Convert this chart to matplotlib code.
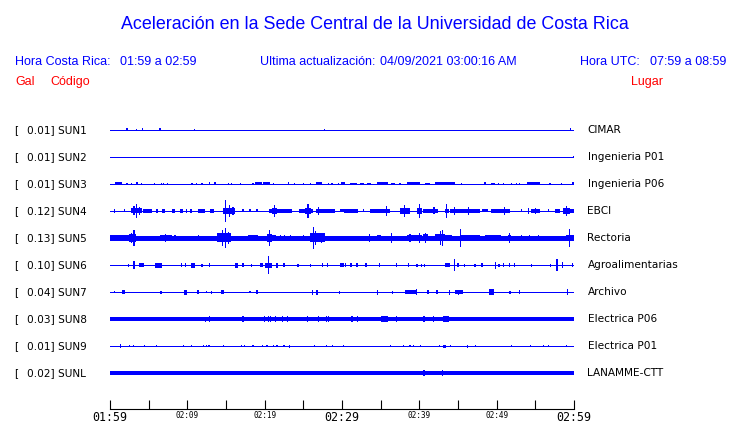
import matplotlib
matplotlib.use("Agg")
import matplotlib.pyplot as plt

# ---------------------------------------------------------
#  Chart data (times are minutes after 01:59 local time)
# ---------------------------------------------------------

TITLE = "Aceleración en la Sede Central de la Universidad de Costa Rica"
CR_RANGE = "01:59 a 02:59"
UTC_RANGE = "07:59 a 08:59"
UPDATED = "04/09/2021 03:00:16 AM"

CODES = ["SUN1", "SUN2", "SUN3", "SUN4", "SUN5",
         "SUN6", "SUN7", "SUN8", "SUN9", "SUNL"]
GAINS = [0.01, 0.01, 0.01, 0.12, 0.13, 0.10, 0.04, 0.03, 0.01, 0.02]
PLACES = ["CIMAR", "Ingenieria P01", "Ingenieria P06", "EBCI", "Rectoria",
          "Agroalimentarias", "Archivo", "Electrica P06", "Electrica P01",
          "LANAMME-CTT"]

# background noise half-amplitude of every trace
BASE_NOISE = [0.5, 0.5, 0.5, 0.5, 1.6, 0.5, 0.5, 1.8, 0.5, 1.9]

# (start, end, half amplitude) of the visible bursts on each trace
SUN1_EVENTS = [(2.2, 2.2, 1.5), (3.4, 3.4, 1.0), (4.2, 4.2, 1.5), (6.3, 6.6, 1.5),
               (10.9, 10.9, 1.0), (27.7, 27.7, 1.0), (59.5, 59.5, 1.5)]

SUN2_EVENTS = [(59.9, 59.9, 1.0)]

SUN3_EVENTS = [
    (0.6, 1.5, 1.5), (2.2, 2.2, 1.2), (2.8, 2.8, 1.2), (3.4, 3.6, 1.5), (4.1, 4.1, 1.2),
    (5.8, 5.8, 1.2), (6.7, 6.7, 1.2), (6.9, 6.9, 1.2), (7.4, 7.4, 1.2), (10.6, 10.6, 1.2),
    (11.2, 11.2, 1.2), (11.9, 11.9, 1.2), (12.9, 12.9, 1.5), (13.5, 13.7, 1.5),
    (15.3, 15.3, 1.2), (15.7, 15.7, 1.2), (16.8, 17.0, 1.2), (18.5, 18.5, 1.2),
    (18.8, 19.6, 1.5), (19.8, 20.7, 1.5), (21.1, 21.1, 1.2), (23.1, 23.1, 1.5),
    (23.9, 23.9, 1.2), (25.0, 25.0, 1.2), (25.9, 25.9, 1.2), (26.7, 27.4, 1.5),
    (28.2, 28.2, 1.2), (28.7, 28.7, 1.2), (29.5, 29.5, 1.2), (29.9, 30.4, 1.5),
    (31.0, 31.9, 1.2), (32.3, 32.8, 1.2), (33.2, 33.8, 1.2), (34.5, 36.0, 1.5),
    (36.4, 36.8, 1.2), (37.5, 37.5, 1.2), (38.4, 40.1, 1.5), (40.7, 41.4, 1.2),
    (42.0, 44.6, 1.5), (45.5, 45.5, 1.2), (48.5, 48.5, 1.5), (49.3, 49.8, 1.2),
    (50.2, 50.2, 1.2), (50.9, 50.9, 1.2), (51.9, 51.9, 1.2), (52.6, 52.6, 1.2),
    (53.0, 53.0, 1.2), (53.9, 55.6, 1.5), (56.9, 56.9, 1.2), (58.4, 58.4, 1.2),
    (59.7, 60.0, 1.5)]

SUN4_EVENTS = [
    (0.6, 0.6, 2.0), (1.9, 1.9, 1.5), (2.7, 4.1, 2.5), (3.4, 3.4, 7.0), (3.1, 3.1, 4.5),
    (3.8, 3.8, 4.0), (4.3, 5.4, 1.8), (6.0, 6.2, 1.8), (6.7, 7.1, 1.8), (8.0, 8.4, 1.8),
    (9.0, 9.4, 1.6), (9.8, 10.0, 1.6), (10.3, 10.6, 1.6), (11.4, 12.3, 1.8),
    (12.9, 13.4, 1.6), (14.6, 16.2, 3.0), (14.9, 14.9, 11.0), (15.5, 15.5, 6.0),
    (15.9, 15.9, 4.0), (17.2, 17.2, 1.5), (18.1, 18.1, 1.5), (19.0, 19.0, 1.5),
    (20.5, 23.5, 1.8), (21.0, 21.6, 3.0), (21.3, 21.3, 6.0), (24.4, 26.3, 2.2),
    (25.2, 26.0, 3.0), (25.6, 25.6, 7.0), (26.7, 29.1, 1.8), (27.0, 27.0, 4.0),
    (29.7, 30.2, 1.5), (30.2, 32.1, 1.6), (32.8, 32.8, 1.5), (33.6, 34.5, 1.8),
    (34.5, 36.2, 2.2), (35.8, 35.8, 5.0), (37.5, 38.8, 3.0), (38.1, 38.1, 6.0),
    (39.7, 40.3, 3.0), (40.0, 40.0, 7.0), (40.5, 42.4, 1.8), (41.9, 41.9, 3.5),
    (43.3, 43.8, 2.2), (43.5, 43.5, 7.0), (44.0, 47.8, 1.8), (44.5, 44.5, 4.0),
    (46.4, 46.4, 4.0), (48.1, 48.9, 1.5), (49.3, 51.7, 1.8), (51.0, 51.0, 4.0),
    (53.2, 53.2, 1.5), (54.1, 54.1, 3.0), (54.5, 55.6, 1.8), (55.0, 55.0, 3.0),
    (56.7, 56.7, 1.5), (57.5, 58.2, 1.8), (58.6, 59.5, 3.0), (59.0, 59.0, 5.0),
    (59.5, 60.0, 1.8)]

SUN5_EVENTS = [
    (0.0, 2.4, 2.5), (2.4, 3.4, 4.0), (3.1, 3.1, 8.0), (2.8, 2.8, 5.0), (3.4, 6.2, 2.0),
    (6.5, 8.0, 2.5), (7.2, 7.2, 4.0), (8.4, 8.4, 2.5), (11.4, 11.4, 2.5),
    (13.8, 15.7, 4.5), (14.6, 14.6, 8.0), (14.9, 14.9, 10.0), (15.3, 15.3, 6.0),
    (15.7, 17.5, 2.0), (17.9, 19.2, 2.5), (20.3, 20.9, 4.0), (20.6, 20.6, 8.0),
    (20.9, 21.5, 3.0), (22.0, 22.0, 2.5), (22.6, 22.6, 2.5), (23.3, 23.3, 2.5),
    (25.0, 25.0, 2.5), (25.9, 27.8, 4.5), (26.3, 26.3, 11.0), (26.6, 26.6, 7.0),
    (27.4, 27.4, 5.0), (27.8, 30.3, 2.0), (30.0, 32.8, 2.0), (33.6, 33.6, 4.0),
    (34.5, 35.1, 3.0), (36.4, 36.4, 5.0), (38.4, 40.3, 3.0), (40.0, 40.0, 5.0),
    (38.8, 38.8, 4.0), (40.5, 41.1, 3.5), (40.8, 40.8, 5.0), (42.0, 43.3, 3.5),
    (42.7, 42.7, 7.0), (43.0, 43.0, 8.0), (43.3, 44.2, 3.0), (45.3, 45.3, 9.0),
    (45.3, 47.8, 2.5), (48.5, 50.6, 2.5), (51.5, 51.9, 3.0), (51.7, 51.7, 5.0),
    (53.2, 53.2, 2.5), (54.3, 54.3, 2.5), (55.4, 55.4, 2.5), (56.0, 58.5, 2.0),
    (59.0, 60.0, 3.0), (59.4, 59.4, 9.0)]

SUN6_EVENTS = [
    (2.4, 2.4, 1.5), (3.1, 3.1, 4.0), (3.7, 4.4, 2.0), (5.8, 6.7, 2.5), (9.2, 9.2, 2.0),
    (9.8, 9.8, 2.0), (10.5, 11.0, 2.5), (11.9, 11.9, 1.5), (12.9, 12.9, 2.0),
    (16.2, 16.6, 2.5), (17.2, 17.2, 2.0), (18.3, 18.3, 1.5), (19.4, 19.8, 2.0),
    (20.0, 21.0, 2.5), (20.5, 20.5, 9.0), (21.6, 21.6, 2.5), (22.5, 22.5, 2.0),
    (24.3, 24.3, 1.5), (25.9, 25.9, 1.5), (27.4, 27.6, 2.0), (28.0, 28.2, 2.0),
    (29.7, 30.2, 2.0), (30.5, 30.5, 2.0), (31.0, 31.3, 2.0), (31.8, 32.1, 2.0),
    (33.1, 33.1, 2.0), (34.8, 34.8, 2.0), (37.0, 37.0, 2.0), (38.6, 38.6, 2.0),
    (39.7, 39.7, 1.5), (40.3, 40.3, 1.5), (40.7, 40.7, 1.5), (43.3, 44.0, 2.0),
    (44.5, 44.5, 6.0), (45.0, 45.0, 2.0), (45.8, 45.8, 1.5), (47.2, 47.2, 1.5),
    (48.1, 48.1, 2.0), (49.9, 49.9, 3.5), (50.3, 50.3, 1.5), (50.9, 50.9, 2.0),
    (51.7, 51.7, 2.0), (52.3, 52.3, 2.0), (54.5, 54.5, 1.5), (57.0, 57.0, 1.5),
    (57.8, 57.8, 6.0), (58.5, 58.5, 3.0), (59.8, 59.8, 2.0)]

SUN7_EVENTS = [
    (0.6, 0.6, 1.3), (1.5, 2.0, 2.0), (6.6, 6.6, 1.5), (9.6, 9.9, 2.5), (11.2, 11.5, 2.0),
    (12.5, 12.5, 1.3), (13.1, 13.1, 1.5), (14.4, 14.7, 2.0), (18.1, 18.1, 1.3),
    (18.9, 19.2, 2.0), (26.1, 26.3, 2.5), (26.7, 26.9, 2.5), (29.7, 29.7, 1.5),
    (34.5, 34.7, 2.5), (36.5, 36.5, 1.5), (38.1, 39.7, 2.0), (39.6, 39.6, 3.0),
    (41.0, 41.2, 2.0), (42.2, 42.4, 2.0), (43.9, 43.9, 2.5), (44.6, 45.7, 2.0),
    (45.1, 45.1, 2.5), (49.0, 49.6, 3.0), (51.6, 51.8, 1.5), (52.9, 52.9, 2.0),
    (59.2, 59.2, 3.0)]

SUN8_EVENTS = [
    (12.3, 12.3, 2.5), (12.9, 12.9, 3.0), (15.7, 15.7, 2.4), (17.2, 17.2, 2.6),
    (20.0, 20.0, 2.6), (20.5, 20.5, 2.6), (20.8, 20.8, 2.6), (21.4, 21.4, 2.6),
    (22.3, 22.3, 2.6), (23.0, 23.0, 2.6), (25.5, 25.5, 2.6), (27.0, 27.0, 3.0),
    (28.0, 28.0, 2.6), (28.3, 28.3, 2.6), (31.3, 31.3, 2.6), (31.9, 32.1, 2.6),
    (35.1, 36.0, 3.0), (37.1, 37.1, 2.6), (40.6, 40.6, 2.6), (41.8, 41.8, 2.6),
    (43.1, 43.9, 2.6)]

SUN9_EVENTS = [
    (1.4, 1.4, 2.0), (2.5, 2.5, 1.2), (3.0, 3.0, 1.2), (4.5, 4.5, 1.2), (6.0, 6.0, 1.2),
    (9.5, 9.5, 1.2), (10.5, 10.5, 1.2), (12.1, 12.1, 1.2), (12.5, 12.5, 1.2),
    (12.8, 12.8, 1.2), (14.6, 14.7, 1.2), (17.0, 17.0, 1.2), (17.4, 17.4, 1.2),
    (18.5, 18.5, 1.2), (19.7, 19.7, 1.2), (20.3, 20.3, 1.2), (21.1, 21.1, 1.2),
    (21.6, 21.6, 1.2), (22.5, 22.5, 1.2), (23.2, 23.2, 1.5), (26.4, 26.4, 1.2),
    (28.0, 28.0, 1.2), (28.7, 28.9, 1.2), (30.2, 30.2, 1.2), (36.3, 36.3, 1.2),
    (38.0, 38.0, 1.2), (38.8, 38.8, 1.2), (39.3, 39.3, 1.2), (40.2, 40.2, 1.2),
    (42.6, 42.6, 1.2), (43.1, 43.4, 1.5), (44.0, 44.0, 1.2), (46.2, 46.2, 1.5),
    (47.3, 47.3, 1.2), (51.9, 51.9, 1.2), (54.4, 54.4, 1.2), (56.1, 56.1, 1.2),
    (56.7, 56.7, 1.2), (59.0, 59.0, 1.2)]

SUNL_EVENTS = [(40.6, 40.6, 3.0), (43.0, 43.0, 3.0)]

EVENTS = [SUN1_EVENTS, SUN2_EVENTS, SUN3_EVENTS, SUN4_EVENTS, SUN5_EVENTS,
          SUN6_EVENTS, SUN7_EVENTS, SUN8_EVENTS, SUN9_EVENTS, SUNL_EVENTS]

TICK_MINUTES = list(range(0, 61, 5))
TIME_LABELS = ["01:59", "", "02:09", "", "02:19", "", "02:29", "",
               "02:39", "", "02:49", "", "02:59"]
BIG_LABELS = ["01:59", "02:29", "02:59"]


# ---------------------------------------------------------
#  Layout helpers (pixel -> figure fraction)
# ---------------------------------------------------------

W, H = 740, 423
ROW_PX = 27.0
BLUE = "#0000ff"
RED = "#ff0000"
HEAD_FONT = "Liberation Sans"


def fx(px):
    return px / W


def fy(py):
    return 1 - py / H


def main():
    fig = plt.figure(figsize=(W / 100, H / 100), dpi=100)

    # headers
    fig.text(fx(375), fy(29.3), TITLE, color=BLUE, fontsize=12.9,
             family=HEAD_FONT, ha="center", va="baseline")
    fig.text(fx(15), fy(65), "Hora Costa Rica:", color=BLUE, fontsize=9,
             family=HEAD_FONT, va="baseline")
    fig.text(fx(120), fy(65), CR_RANGE, color=BLUE, fontsize=9,
             family=HEAD_FONT, va="baseline")
    fig.text(fx(260), fy(65), "Ultima actualización:", color=BLUE, fontsize=9,
             family=HEAD_FONT, va="baseline")
    fig.text(fx(380.5), fy(65), UPDATED, color=BLUE, fontsize=9,
             family=HEAD_FONT, va="baseline")
    fig.text(fx(580.5), fy(65), "Hora UTC:", color=BLUE, fontsize=9,
             family=HEAD_FONT, va="baseline")
    fig.text(fx(650.5), fy(65), UTC_RANGE, color=BLUE, fontsize=9,
             family=HEAD_FONT, va="baseline")
    fig.text(fx(15), fy(85), "Gal", color=RED, fontsize=9,
             family=HEAD_FONT, va="baseline")
    fig.text(fx(50), fy(85), "Código", color=RED, fontsize=9,
             family=HEAD_FONT, va="baseline")
    fig.text(fx(630.5), fy(85), "Lugar", color=RED, fontsize=9,
             family=HEAD_FONT, va="baseline")

    # traces
    n = len(CODES)
    top_px = 130 - ROW_PX / 2
    ax = fig.add_axes([fx(110), fy(top_px + n * ROW_PX), 464 / W, n * ROW_PX / H])
    ax.set_xlim(0, 60)
    ax.set_ylim(n - 0.5, -0.5)
    ax.axis("off")

    for row, (code, gain, place) in enumerate(zip(CODES, GAINS, PLACES)):
        # thin traces stay one pixel wide, noisy ones get a wider band
        lw = max(2 * BASE_NOISE[row], 1.0) * 0.72
        ax.hlines(row, 0, 60, color=BLUE, lw=lw, antialiased=False)

        events = EVENTS[row]
        centers = [(s + e) / 2 for s, e, _ in events]
        widths = [max(e - s, 0.15) for s, e, _ in events]
        amps = [a / ROW_PX for _, _, a in events]
        ax.bar(centers, [2 * a for a in amps], width=widths,
               bottom=[row - a for a in amps], color=BLUE, linewidth=0,
               antialiased=False)

        ypx = 130 + row * ROW_PX
        fig.text(fx(14), fy(ypx), "[", fontsize=7.6, va="center")
        fig.text(fx(27.3), fy(ypx), f"{gain:.2f}] {code}", fontsize=7.6,
                 va="center")
        fig.text(fx(587.5), fy(ypx), place, fontsize=7.6, va="center")

    # time axis
    tax = fig.add_axes([fx(110), fy(409), 464 / W, 20 / H])
    tax.set_xlim(0, 60)
    tax.patch.set_visible(False)
    for side in ("top", "left", "right"):
        tax.spines[side].set_visible(False)
    tax.spines["bottom"].set_linewidth(0.8)
    tax.set_yticks([])
    tax.set_xticks(TICK_MINUTES)
    tax.set_xticklabels(TIME_LABELS, family="DejaVu Sans Mono")
    tax.tick_params(axis="x", direction="in", length=6.3, width=0.8, pad=1.5)
    for lbl in tax.get_xticklabels():
        lbl.set_fontsize(8.4 if lbl.get_text() in BIG_LABELS else 5.6)

    fig.savefig("out.png", dpi=100)


if __name__ == "__main__":
    main()
